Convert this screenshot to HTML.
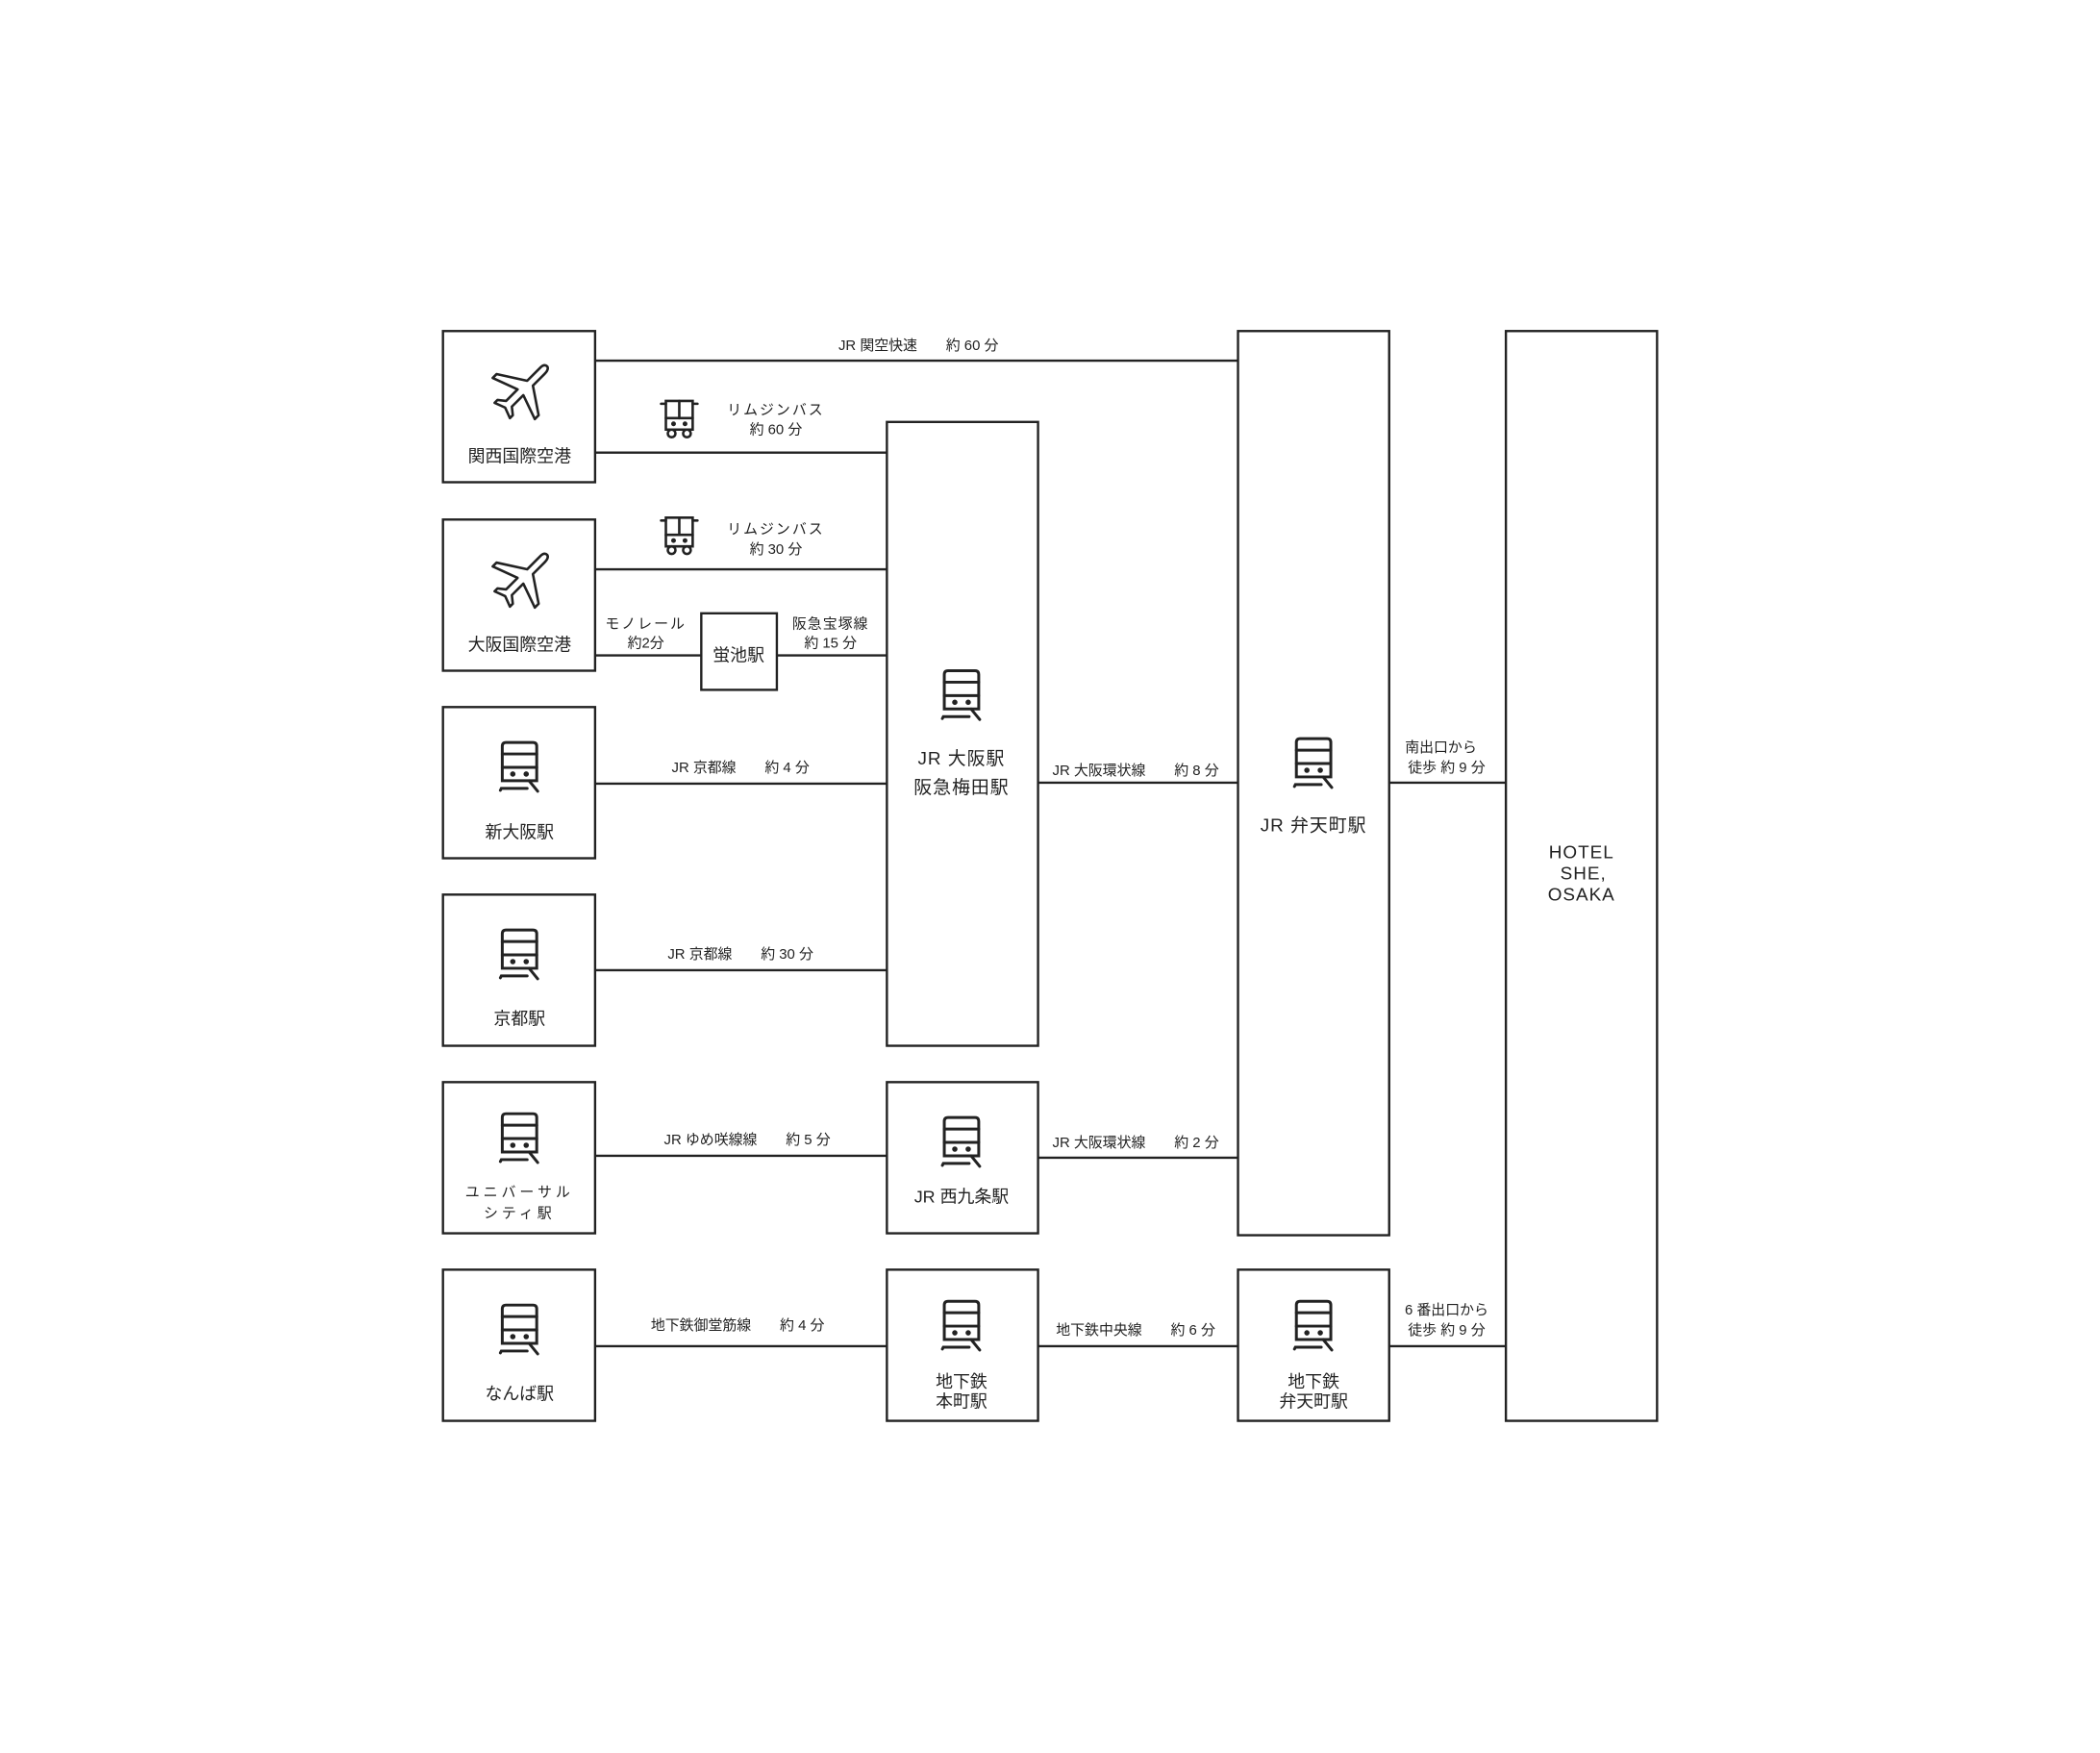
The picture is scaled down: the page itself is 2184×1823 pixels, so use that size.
<!DOCTYPE html>
<html><head><meta charset="utf-8"><style>
html,body{margin:0;padding:0;background:#fff;}
svg{display:block;}
text{font-family:"Liberation Sans","Noto Sans CJK JP",sans-serif;fill:#222;text-anchor:middle;}
.s{font-size:15px;}
.m{font-size:18px;}
.b{font-size:19px;letter-spacing:1px;}
</style></head><body>
<svg width="2184" height="1823" viewBox="0 0 2184 1823" xmlns="http://www.w3.org/2000/svg">
<defs>
<g id="train" fill="none" stroke="#222" stroke-width="3" stroke-linecap="round">
  <path d="M-18,-22 Q-18,-26 -14,-26 L14,-26 Q18,-26 18,-22 L18,14 L-18,14 Z"/>
  <line x1="-18" y1="-14" x2="18" y2="-14"/>
  <line x1="-18" y1="0" x2="18" y2="0"/>
  <circle cx="-7" cy="7" r="1.3" fill="#222"/>
  <circle cx="7" cy="7" r="1.3" fill="#222"/>
  <path d="M-20,24 L-19,22 L8,22"/>
  <line x1="10" y1="14" x2="19" y2="25"/>
</g>
<g id="bus" fill="none" stroke="#222" stroke-width="2.6" stroke-linecap="round">
  <path d="M-14,-16 L14,-16 L14,14 L-14,14 Z"/>
  <line x1="-19" y1="-13" x2="-14" y2="-13"/><line x1="14" y1="-13" x2="19" y2="-13"/>
  <line x1="0" y1="-16" x2="0" y2="2"/>
  <line x1="-14" y1="2" x2="14" y2="2"/>
  <circle cx="-6" cy="8" r="1.2" fill="#222"/><circle cx="6" cy="8" r="1.2" fill="#222"/>
  <circle cx="-8" cy="18" r="4"/><circle cx="8" cy="18" r="4"/>
</g>
<g id="plane" fill="none" stroke="#222" stroke-width="2.6" stroke-linejoin="round">
  <path d="M26,-26 Q30,-30 33,-27 Q35,-24 30,-19 L18,-7 L24,24 L20,28 L8,3 L-4,15 L-3,24 L-6,27 L-11,16 L-22,11 L-19,8 L-10,9 L2,-3 L-24,-15 L-20,-19 L12,-12 Z" transform="translate(-4,0)"/>
</g>
</defs>
<g transform="scale(0.995)">
<g fill="none" stroke="#222" stroke-width="2.4">
  <rect x="463" y="346" width="159" height="158"/>
  <rect x="463" y="543" width="159" height="158"/>
  <rect x="463" y="739" width="159" height="158"/>
  <rect x="463" y="935" width="159" height="158"/>
  <rect x="463" y="1131" width="159" height="158"/>
  <rect x="463" y="1327" width="159" height="158"/>
  <rect x="927" y="441" width="158" height="652"/>
  <rect x="927" y="1131" width="158" height="158"/>
  <rect x="927" y="1327" width="158" height="158"/>
  <rect x="733" y="641" width="79" height="80"/>
  <rect x="1294" y="346" width="158" height="945"/>
  <rect x="1294" y="1327" width="158" height="158"/>
  <rect x="1574" y="346" width="158" height="1139"/>
  <line x1="622" y1="377" x2="1294" y2="377"/>
  <line x1="622" y1="473" x2="927" y2="473"/>
  <line x1="622" y1="595" x2="927" y2="595"/>
  <line x1="622" y1="685" x2="733" y2="685"/>
  <line x1="812" y1="685" x2="927" y2="685"/>
  <line x1="622" y1="819" x2="927" y2="819"/>
  <line x1="622" y1="1014" x2="927" y2="1014"/>
  <line x1="622" y1="1208" x2="927" y2="1208"/>
  <line x1="1085" y1="1210" x2="1294" y2="1210"/>
  <line x1="1085" y1="818" x2="1294" y2="818"/>
  <line x1="1452" y1="818" x2="1574" y2="818"/>
  <line x1="622" y1="1407" x2="927" y2="1407"/>
  <line x1="1085" y1="1407" x2="1294" y2="1407"/>
  <line x1="1452" y1="1407" x2="1574" y2="1407"/>
</g>
<use href="#plane" x="543" y="410"/>
<use href="#plane" x="543" y="607"/>
<use href="#bus" x="710" y="435"/>
<use href="#bus" x="710" y="557"/>
<use href="#train" x="543" y="802"/>
<use href="#train" x="543" y="998"/>
<use href="#train" x="543" y="1190"/>
<use href="#train" x="543" y="1390"/>
<use href="#train" x="1005" y="727"/>
<use href="#train" x="1005" y="1194"/>
<use href="#train" x="1005" y="1386"/>
<use href="#train" x="1373" y="798"/>
<use href="#train" x="1373" y="1386"/>
<text class="s" x="960" y="366">JR 関空快速　　約 60 分</text>
<text class="s" x="811" y="433" letter-spacing="2">リムジンバス</text>
<text class="s" x="811" y="454">約 60 分</text>
<text class="s" x="811" y="558" letter-spacing="2">リムジンバス</text>
<text class="s" x="811" y="579">約 30 分</text>
<text class="m" x="543" y="483">関西国際空港</text>
<text class="m" x="543" y="680">大阪国際空港</text>
<text class="s" x="675" y="657" letter-spacing="2">モノレール</text>
<text class="s" x="675" y="677">約2分</text>
<text class="m" x="772" y="691">蛍池駅</text>
<text class="s" x="868" y="657" letter-spacing="1">阪急宝塚線</text>
<text class="s" x="868" y="677">約 15 分</text>
<text class="m" x="543" y="876">新大阪駅</text>
<text class="s" x="774" y="807">JR 京都線　　約 4 分</text>
<text class="m" x="543" y="1071">京都駅</text>
<text class="s" x="774" y="1002">JR 京都線　　約 30 分</text>
<text class="b" x="1005" y="799">JR 大阪駅</text>
<text class="b" x="1005" y="829">阪急梅田駅</text>
<text class="s" x="1187" y="810">JR 大阪環状線　　約 8 分</text>
<text class="b" x="1373" y="869">JR 弁天町駅</text>
<text class="s" x="1506" y="786">南出口から</text>
<text class="s" x="1512" y="807">徒歩 約 9 分</text>
<text class="b" x="1653" y="897" letter-spacing="2">HOTEL</text>
<text class="b" x="1655" y="919" letter-spacing="2">SHE,</text>
<text class="b" x="1653" y="941" letter-spacing="2">OSAKA</text>
<text class="s" x="543" y="1251" letter-spacing="4">ユニバーサル</text>
<text class="s" x="543" y="1273" letter-spacing="4">シティ駅</text>
<text class="s" x="781" y="1196">JR ゆめ咲線線　　約 5 分</text>
<text class="m" x="1005" y="1257">JR 西九条駅</text>
<text class="s" x="1187" y="1199">JR 大阪環状線　　約 2 分</text>
<text class="m" x="543" y="1463">なんば駅</text>
<text class="s" x="771" y="1390">地下鉄御堂筋線　　約 4 分</text>
<text class="m" x="1005" y="1450">地下鉄</text>
<text class="m" x="1005" y="1471">本町駅</text>
<text class="s" x="1187" y="1395">地下鉄中央線　　約 6 分</text>
<text class="m" x="1373" y="1450">地下鉄</text>
<text class="m" x="1373" y="1471">弁天町駅</text>
<text class="s" x="1512" y="1374">6 番出口から</text>
<text class="s" x="1512" y="1395">徒歩 約 9 分</text>
</g>
</svg>
</body></html>
